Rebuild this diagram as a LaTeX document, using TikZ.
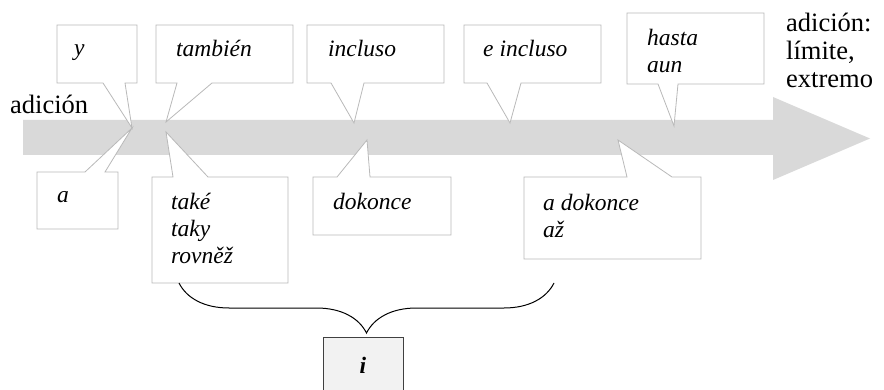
\documentclass[tikz,border=0pt]{standalone}
\usepackage{fontspec}
\setmainfont{Liberation Serif}
\usetikzlibrary{decorations.pathreplacing}

\definecolor{arrowgray}{RGB}{217,217,217}
\definecolor{boxgray}{RGB}{185,185,185}
\definecolor{igray}{RGB}{242,242,242}

\tikzset{
  callout/.style={draw=boxgray, fill=white, line width=0.8pt, line join=miter},
  word/.style={anchor=base west, inner sep=0pt, align=left,
    font=\fontsize{23.5}{27}\selectfont\itshape},
  label/.style={anchor=base west, inner sep=0pt, align=left,
    font=\fontsize{26.5}{28}\selectfont}
}

\begin{document}
\begin{tikzpicture}[x=1pt, y=-1pt]
    \useasboundingbox (0,0) rectangle (884,390);
    \clip (0,0) rectangle (884,390);

    % grosse Pfeil
    \fill[arrowgray] (23,120) -- (773,120) -- (773,97) -- (870,138.5)
        -- (773,180) -- (773,155) -- (23,155) -- cycle;

    % Sprechblasen oben
    \draw[callout] (57,25) -- (137,25) -- (137,83) -- (125,83) -- (132,128)
        -- (103,83) -- (57,83) -- cycle;
    \draw[callout] (156,25) -- (293,25) -- (293,83) -- (212,83) -- (166,122)
        -- (177,83) -- (156,83) -- cycle;
    \draw[callout] (307,25) -- (444,25) -- (444,83) -- (364,83) -- (354,123)
        -- (331,83) -- (307,83) -- cycle;
    \draw[callout] (464,25) -- (601,25) -- (601,83) -- (521,83) -- (510,123)
        -- (487,83) -- (464,83) -- cycle;
    \draw[callout] (627,13) -- (764,13) -- (764,84) -- (678,84) -- (674,126)
        -- (658,84) -- (627,84) -- cycle;

    % Sprechblasen unten
    \draw[callout] (37,172) -- (85,172) -- (132,128) -- (105,172) -- (118,172)
        -- (118,229) -- (37,229) -- cycle;
    \draw[callout] (152,177) -- (173,177) -- (166,132) -- (208,177) -- (288,177)
        -- (288,283) -- (152,283) -- cycle;
    \draw[callout] (313,177) -- (337,177) -- (367,140) -- (370,177) -- (451,177)
        -- (451,235) -- (313,235) -- cycle;
    \draw[callout] (524,177) -- (627,177) -- (618,140) -- (672,177) -- (701,177)
        -- (701,259) -- (524,259) -- cycle;

    % Texte (bei mehreren Zeilen: Grundlinie der letzten Zeile)
    \node[word] (y) at (74,56) {y};
    \node[word] (tambien) at (176,57) {también};
    \node[word] (incluso) at (328,57) {incluso};
    \node[word] (eincluso) at (483,57) {e incluso};
    \node[word] (hasta) at (647,73) {hasta\\aun};
    \node[word] (a) at (57,203) {a};
    \node[word] (take) at (171,264) {také\\taky\\rovněž};
    \node[word] (dokonce) at (333,210) {dokonce};
    \node[word] (adokonce) at (543,238) {a dokonce\\až};

    \node[label] (adicion) at (10,114) {adición};
    \node[label] (limite) at (786,88) {adición:\\límite,\\extremo};

    % Klammer und i
    \coordinate (bl) at (179,283);
    \coordinate (br) at (554,283);
    \draw[line width=1pt, decorate, decoration={brace, mirror, amplitude=50pt}]
        (bl) -- (br);
    \draw[draw=black!75, fill=igray, line width=0.8pt] (323,337) rectangle (403,400);
    \node[font=\fontsize{23.5}{27}\selectfont\bfseries\itshape] (i) at (363,365) {i};
\end{tikzpicture}
\end{document}
